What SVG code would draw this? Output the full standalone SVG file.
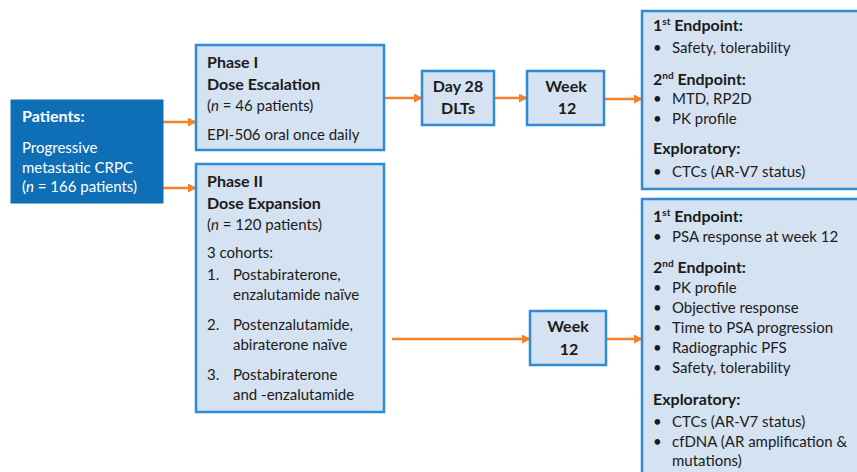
<svg xmlns="http://www.w3.org/2000/svg" width="857" height="472" viewBox="0 0 857 472">
<defs>
<marker id="ah" viewBox="0 0 10 10" refX="9" refY="5" markerWidth="9" markerHeight="9" markerUnits="userSpaceOnUse" orient="auto">
<path d="M0,0 L10,5 L0,10 z" fill="#f5812a"/>
</marker>
<style>
.box{fill:#d5e2f2;stroke:#2f8bd6;stroke-width:2.5}
.pbox{fill:#0f6fb6;stroke:#0f6fb6}
text{font-family:Lato,"Liberation Sans",sans-serif;font-size:15px;fill:#1b1b1b}
.b{font-weight:bold;font-size:16px}
.w{fill:#ffffff}
.c{text-anchor:middle}
.arr{stroke:#f5812a;stroke-width:2.5;fill:none;marker-end:url(#ah)}
</style>
</defs>
<rect width="857" height="472" fill="#ffffff"/>
<g id="connectors">
<line class="arr" x1="163" y1="122" x2="196" y2="122"/>
<line class="arr" x1="163" y1="188" x2="196" y2="188"/>
<line class="arr" x1="384" y1="98" x2="422" y2="98"/>
<line class="arr" x1="494" y1="98" x2="527" y2="98"/>
<line class="arr" x1="604" y1="99" x2="642" y2="99"/>
<line class="arr" x1="392" y1="339" x2="530" y2="339"/>
<line class="arr" x1="606" y1="339" x2="642" y2="339"/>
</g>
<g id="patients">
<rect class="pbox" x="11" y="100" width="152" height="103"/>
<text class="b w" x="22" y="122">Patients:</text>
<text class="w" x="22" y="153">Progressive</text>
<text class="w" x="22" y="173">metastatic CRPC</text>
<text class="w" x="22" y="192">(<tspan font-style="italic">n</tspan> = 166 patients)</text>
</g>
<g id="phase1">
<rect class="box" x="196" y="45" width="188" height="105"/>
<text class="b" x="207" y="68">Phase I</text>
<text class="b" x="207" y="90">Dose Escalation</text>
<text x="207" y="111">(<tspan font-style="italic">n</tspan> = 46 patients)</text>
<text x="207" y="140">EPI-506 oral once daily</text>
</g>
<g id="phase2">
<rect class="box" x="196" y="164" width="188" height="248"/>
<text class="b" x="207" y="187">Phase II</text>
<text class="b" x="207" y="209">Dose Expansion</text>
<text x="207" y="230">(<tspan font-style="italic">n</tspan> = 120 patients)</text>
<text x="207" y="258">3 cohorts:</text>
<text x="207" y="280">1.</text><text x="233" y="280">Postabiraterone,</text>
<text x="233" y="300">enzalutamide naïve</text>
<text x="207" y="330">2.</text><text x="233" y="330">Postenzalutamide,</text>
<text x="233" y="350">abiraterone naïve</text>
<text x="207" y="380">3.</text><text x="233" y="380">Postabiraterone</text>
<text x="233" y="400">and -enzalutamide</text>
</g>
<g id="day28">
<rect class="box" x="422" y="71" width="72" height="54"/>
<text class="b c" x="458" y="92">Day 28</text>
<text class="b c" x="458" y="114">DLTs</text>
</g>
<g id="week12a">
<rect class="box" x="527" y="71" width="77" height="54"/>
<text class="b c" x="566" y="92">Week</text>
<text class="b c" x="567" y="114">12</text>
</g>
<g id="week12b">
<rect class="box" x="530" y="311" width="76" height="54"/>
<text class="b c" x="568" y="332">Week</text>
<text class="b c" x="569" y="355">12</text>
</g>
<g id="endpoints1">
<rect class="box" x="642" y="11" width="230" height="178"/>
<text class="b" x="653" y="31">1<tspan font-size="10" dy="-6">st</tspan><tspan dy="6"> Endpoint:</tspan></text>
<text x="653" y="53">•</text><text x="672" y="53">Safety, tolerability</text>
<text class="b" x="653" y="85">2<tspan font-size="10" dy="-6">nd</tspan><tspan dy="6"> Endpoint:</tspan></text>
<text x="653" y="104">•</text><text x="672" y="104">MTD, RP2D</text>
<text x="653" y="124">•</text><text x="672" y="124">PK profile</text>
<text class="b" x="653" y="154">Exploratory:</text>
<text x="653" y="177">•</text><text x="672" y="177">CTCs (AR-V7 status)</text>
</g>
<g id="endpoints2">
<rect class="box" x="642" y="199" width="230" height="290"/>
<text class="b" x="653" y="222">1<tspan font-size="10" dy="-6">st</tspan><tspan dy="6"> Endpoint:</tspan></text>
<text x="653" y="242">•</text><text x="672" y="242">PSA response at week 12</text>
<text class="b" x="653" y="273">2<tspan font-size="10" dy="-6">nd</tspan><tspan dy="6"> Endpoint:</tspan></text>
<text x="653" y="293">•</text><text x="672" y="293">PK profile</text>
<text x="653" y="313">•</text><text x="672" y="313">Objective response</text>
<text x="653" y="333">•</text><text x="672" y="333">Time to PSA progression</text>
<text x="653" y="353">•</text><text x="672" y="353">Radiographic PFS</text>
<text x="653" y="373">•</text><text x="672" y="373">Safety, tolerability</text>
<text class="b" x="653" y="405">Exploratory:</text>
<text x="653" y="427">•</text><text x="672" y="427">CTCs (AR-V7 status)</text>
<text x="653" y="447">•</text><text x="672" y="447">cfDNA (AR amplification &amp;</text>
<text x="672" y="466">mutations)</text>
</g>
</svg>
